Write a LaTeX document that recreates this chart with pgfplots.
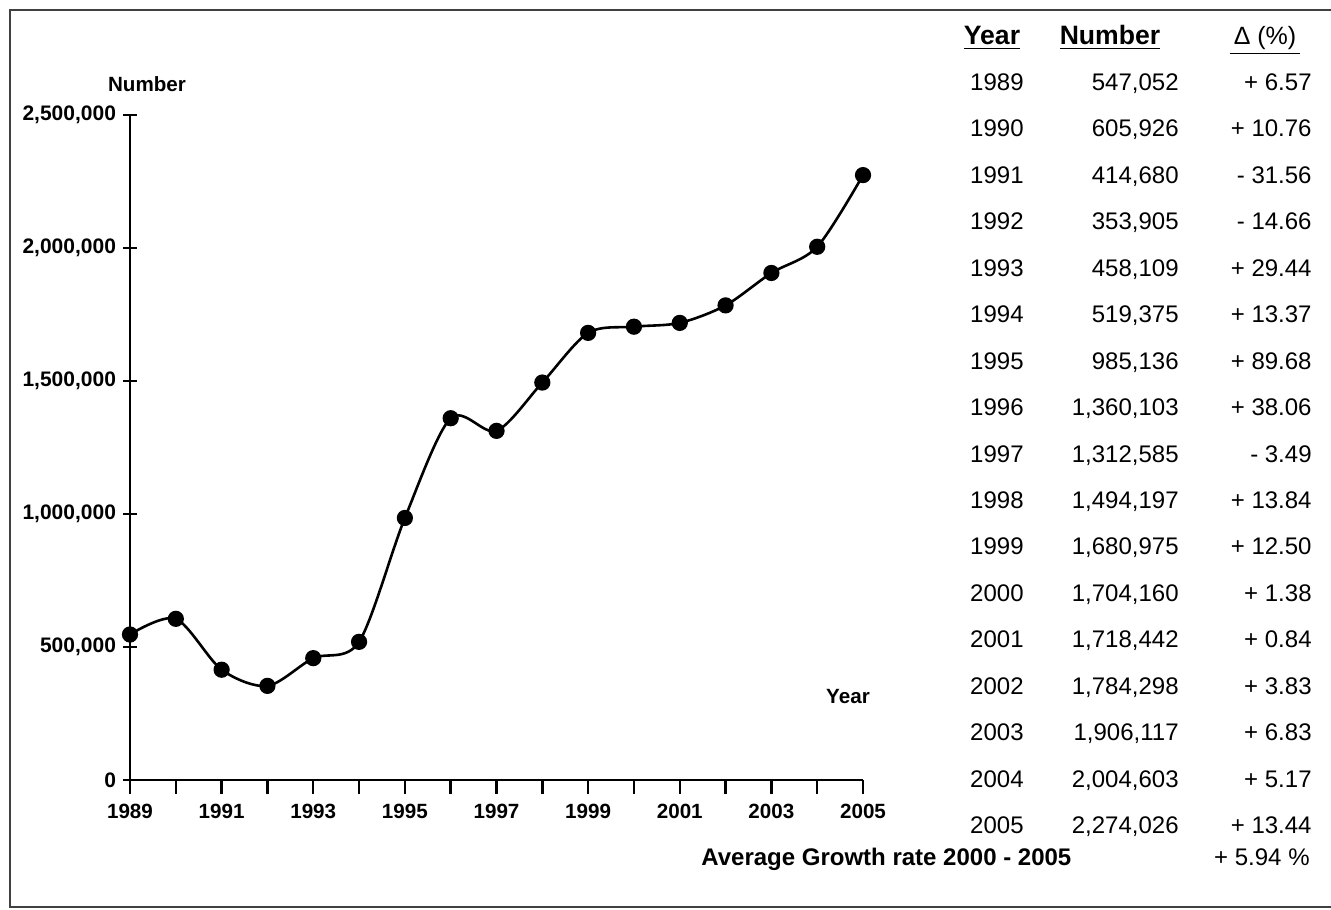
\documentclass[border=0pt]{standalone}
\usepackage{pgfplots}
\pgfplotsset{compat=1.18}
\usepackage{fontspec}
\setmainfont{Liberation Sans}

\pgfplotstableread{
year number
1989 547052
1990 605926
1991 414680
1992 353905
1993 458109
1994 519375
1995 985136
1996 1360103
1997 1312585
1998 1494197
1999 1680975
2000 1704160
2001 1718442
2002 1784298
2003 1906117
2004 2004603
2005 2274026
}\cases

\begin{document}
\begin{tikzpicture}
\useasboundingbox (0,0) rectangle (665.5pt,-454.5pt);
% frame
\draw[line width=1pt, black!75] (665.5pt,-5pt) -- (5pt,-5pt) -- (5pt,-453.5pt) -- (665.5pt,-453.5pt);

\begin{axis}[
    scale only axis,
    width=366.5pt, height=332.5pt,
    at={(65pt,-390pt)}, anchor=south west,
    xmin=1989, xmax=2005, ymin=0, ymax=2500000,
    axis lines=left,
    axis line style={line width=1.3pt, -},
    clip=false,
    xtick={1989,1991,...,2005},
    minor xtick={1990,1992,...,2004},
    ytick={0,500000,...,2500000},
    scaled y ticks=false,
    tick align=center,
    major tick length=7pt,
    minor tick length=7pt,
    tick style={line width=1.2pt, black},
    xtick style={yshift=-3.5pt},
    /pgf/number format/assume math mode=true,
    xticklabel style={/pgf/number format/1000 sep={}, font=\fontsize{10.3}{12}\selectfont\bfseries, yshift=-5pt},
    yticklabel style={/pgf/number format/1000 sep={,}, /pgf/number format/fixed, font=\fontsize{10.5}{12}\selectfont\bfseries},
]
\addplot[black, line width=1.3pt, smooth, tension=0.5, mark=*, mark size=3.4pt, mark options={fill=black}]
    table[x=year, y=number] {\cases};
\end{axis}

\begin{scope}[x=0.5pt, y=-0.5pt]
\node[font=\fontsize{10.3}{12}\selectfont\bfseries] at (147,84) {Number};
\node[font=\fontsize{10.3}{12}\selectfont\bfseries] at (848,697) {Year};

\node[anchor=base, font=\fontsize{13.3}{15}\selectfont\bfseries] at (992,45) {\underline{Year}};
\node[anchor=base, font=\fontsize{13.3}{15}\selectfont\bfseries] at (1110,45) {\underline{Number}};
\node[anchor=base, font=\fontsize{12.5}{15}\selectfont] at (1265,45) {\underline{\,Δ (\%)\,}};

\foreach \yr/\num/\dd [count=\i from 0] in {
    1989/{547,052}/+ 6.57,
    1990/{605,926}/+ 10.76,
    1991/{414,680}/- 31.56,
    1992/{353,905}/- 14.66,
    1993/{458,109}/+ 29.44,
    1994/{519,375}/+ 13.37,
    1995/{985,136}/+ 89.68,
    1996/{1,360,103}/+ 38.06,
    1997/{1,312,585}/- 3.49,
    1998/{1,494,197}/+ 13.84,
    1999/{1,680,975}/+ 12.50,
    2000/{1,704,160}/+ 1.38,
    2001/{1,718,442}/+ 0.84,
    2002/{1,784,298}/+ 3.83,
    2003/{1,906,117}/+ 6.83,
    2004/{2,004,603}/+ 5.17,
    2005/{2,274,026}/+ 13.44}{
  \pgfmathsetmacro\ry{90.5+46.44*\i}
  \node[anchor=base east, inner xsep=0pt, font=\fontsize{12}{14}\selectfont] at (1024,\ry) {\yr};
  \node[anchor=base east, inner xsep=0pt, font=\fontsize{12}{14}\selectfont] at (1179,\ry) {\num};
  \node[anchor=base east, inner xsep=0pt, font=\fontsize{12}{14}\selectfont] at (1312,\ry) {\dd};
}

\node[anchor=base west, inner xsep=0pt, font=\fontsize{12}{14}\selectfont\bfseries] at (701,865) {Average Growth rate 2000 - 2005};
\node[anchor=base east, inner xsep=0pt, font=\fontsize{12}{14}\selectfont] at (1310,865) {+ 5.94 \%};
\end{scope}
\end{tikzpicture}
\end{document}
